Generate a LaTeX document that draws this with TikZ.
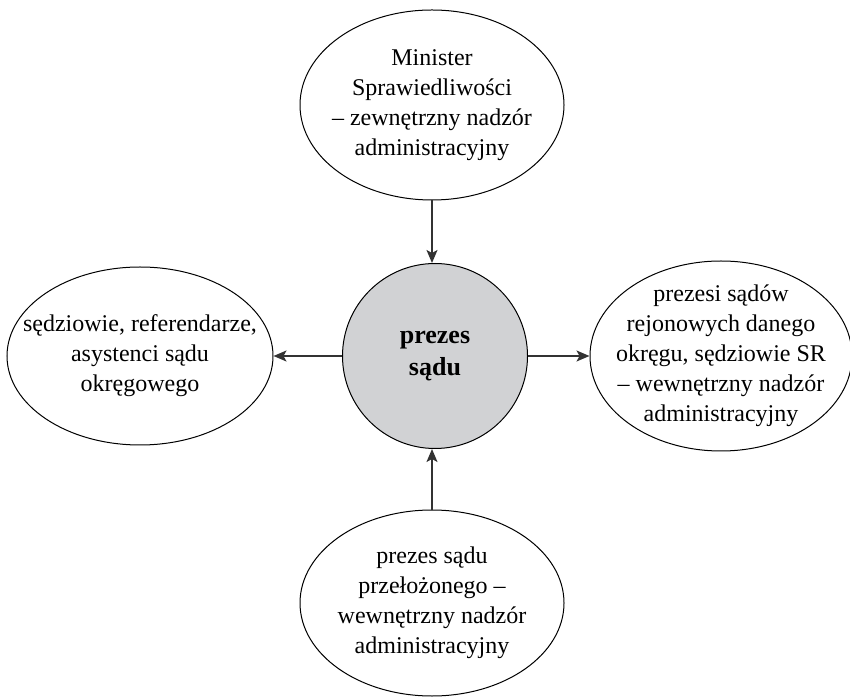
\documentclass[tikz,border=0pt]{standalone}
\usepackage{fontspec}
\setmainfont{Liberation Serif}
\usetikzlibrary{arrows.meta,shapes.geometric}
\definecolor{bossgray}{RGB}{209,210,212}
\definecolor{linkgray}{RGB}{50,50,50}
\tikzset{
	field/.style={draw, ellipse, inner sep=0pt, line width=0.5pt},
	fieldtext/.style={align=center, inner sep=0pt, font=\fontsize{12}{15}\selectfont},
	boss/.style={draw, circle, fill=bossgray, inner sep=0pt, align=center, line width=0.5pt,
		minimum size=92.5pt, font=\fontsize{13}{16}\selectfont\bfseries},
	link/.style={-{Stealth[length=6.5pt, width=5.5pt, inset=1.5pt]}, line width=0.7pt, draw=linkgray}
}
\begin{document}
\begin{tikzpicture}[x=0.5pt, y=0.5pt]
		\useasboundingbox (0, 0) rectangle (850, 696);

		\node [boss]	(prezes)	at (435, 340)	{prezes\\sądu};

		\node [field, minimum width=132pt, minimum height=95pt]	(minister)	at (432, 591)	{};
		\node [fieldtext]	(minister text)	at (minister)
			{Minister\\Sprawiedliwości\\– zewnętrzny nadzór\\administracyjny};

		\node [field, minimum width=133pt, minimum height=89pt]	(sedziowie)	at (140, 340)	{};
		\node [fieldtext]	(sedziowie text)	at (sedziowie)
			{sędziowie, referendarze,\\asystenci sądu\\okręgowego};

		\node [field, minimum width=131pt, minimum height=95pt]	(rejonowe)	at (721, 340)	{};
		\node [fieldtext]	(rejonowe text)	at (rejonowe)
			{prezesi sądów\\rejonowych danego\\okręgu, sędziowie SR\\– wewnętrzny nadzór\\administracyjny};

		\node [field, minimum width=132pt, minimum height=93pt]	(przelozony)	at (432, 93)	{};
		\node [fieldtext]	(przelozony text)	at (przelozony)
			{prezes sądu\\przełożonego –\\wewnętrzny nadzór\\administracyjny};

		\draw [link]	(minister.south) to (minister.south |- prezes.north);
		\draw [link]	(prezes.west) to (sedziowie.east);
		\draw [link]	(prezes.east) to (rejonowe.west);
		\draw [link]	(przelozony.north) to (przelozony.north |- prezes.south);
\end{tikzpicture}
\end{document}
